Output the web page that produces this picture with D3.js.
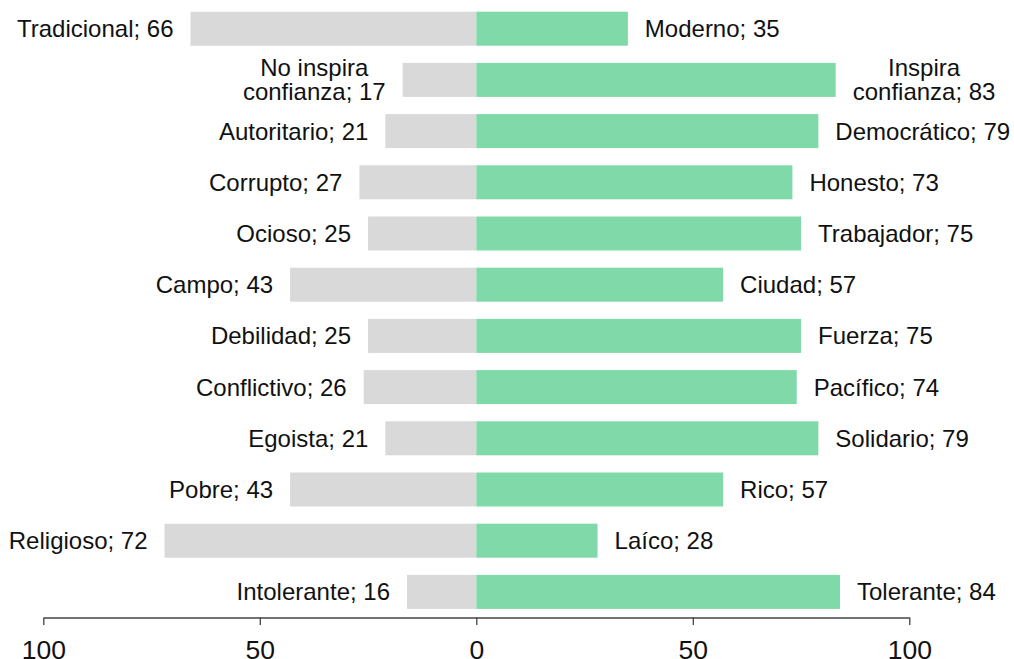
<!DOCTYPE html>
<html>
<head>
<meta charset="utf-8">
<script src="https://cdn.jsdelivr.net/npm/d3@7"></script>
<style>
  body { margin: 0; background: #fff; }
  text { font-family: "Liberation Sans", Arial, sans-serif; }
</style>
</head>
<body>
<div id="visualization"></div>
<script>
const leftLabels = ["Tradicional", "No inspira\nconfianza", "Autoritario", "Corrupto", "Ocioso", "Campo",
  "Debilidad", "Conflictivo", "Egoista", "Pobre", "Religioso", "Intolerante"];
const leftValues = [66, 17, 21, 27, 25, 43, 25, 26, 21, 43, 72, 16];
const rightLabels = ["Moderno", "Inspira\nconfianza", "Democrático", "Honesto", "Trabajador", "Ciudad",
  "Fuerza", "Pacífico", "Solidario", "Rico", "Laíco", "Tolerante"];
const rightValues = [35, 83, 79, 73, 75, 57, 75, 74, 79, 57, 28, 84];
const tickValues = [-100, -50, 0, 50, 100];

const width = 1014, height = 659;

const svg = d3
  .select("#visualization")
  .append("svg")
  .attr("width", width)
  .attr("height", height);

const x = d3.scaleLinear().domain([-100, 100]).range([43.3, 909.3]);
const y = d3
  .scaleBand()
  .domain(d3.range(leftLabels.length))
  .range([3.1, 617.5])
  .paddingInner(0.336)
  .paddingOuter(0.168);

const gray = "#d9d9d9", green = "#80d9a8";
const gap = 17, fontSize = 24, lineH = 24;

// bars
svg.append("g")
  .selectAll("rect")
  .data(leftValues)
  .join("rect")
  .attr("x", (d) => x(-d))
  .attr("y", (d, i) => y(i))
  .attr("width", (d) => x(0) - x(-d))
  .attr("height", y.bandwidth())
  .attr("fill", gray);

svg.append("g")
  .selectAll("rect")
  .data(rightValues)
  .join("rect")
  .attr("x", x(0))
  .attr("y", (d, i) => y(i))
  .attr("width", (d) => x(d) - x(0))
  .attr("height", y.bandwidth())
  .attr("fill", green);

// labels, multi-line ones are centred inside their block
function addLabel(label, value, i, side) {
  const lines = `${label}; ${value}`.split("\n");
  const cy = y(i) + y.bandwidth() / 2;
  const t = svg.append("text")
    .attr("font-size", fontSize + "px")
    .attr("fill", "#111");
  lines.forEach((ln, k) => {
    t.append("tspan")
      .attr("x", 0)
      .attr("y", cy + (k - (lines.length - 1) / 2) * lineH)
      .attr("dy", "0.35em")
      .text(ln);
  });
  const w = t.node().getBBox().width;
  const cx = side === "left" ? x(-value) - gap - w / 2 : x(value) + gap + w / 2;
  t.attr("text-anchor", "middle").selectAll("tspan").attr("x", cx);
}

leftLabels.forEach((l, i) => addLabel(l, leftValues[i], i, "left"));
rightLabels.forEach((l, i) => addLabel(l, rightValues[i], i, "right"));

// axis
const axis = svg.append("g")
  .attr("transform", "translate(0, 617.5)")
  .call(d3.axisBottom(x).tickValues(tickValues).tickSize(7.5).tickSizeOuter(0).tickFormat((d) => Math.abs(d)));
axis.select(".domain").attr("stroke", "#444").attr("stroke-width", 1.3);
axis.selectAll(".tick line").attr("stroke", "#444").attr("stroke-width", 1.3);
axis.selectAll(".tick text")
  .attr("font-size", "26.5px")
  .attr("font-family", "Liberation Sans, Arial, sans-serif")
  .attr("fill", "#111")
  .attr("dy", null)
  .attr("y", 41);
</script>
</body>
</html>
